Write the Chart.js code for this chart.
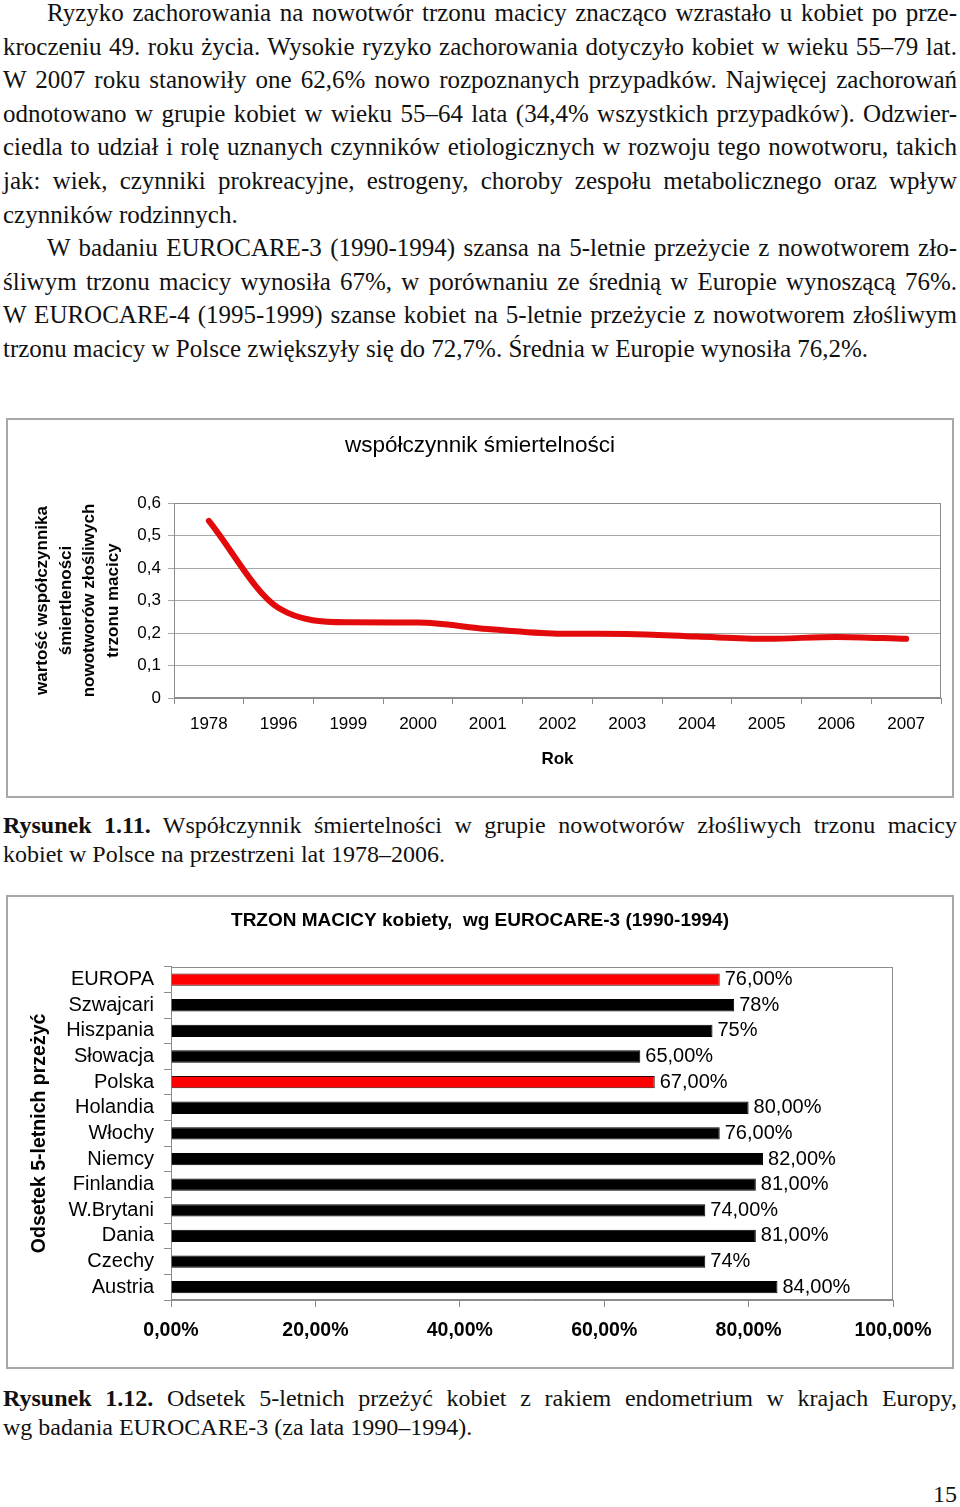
<!DOCTYPE html>
<html lang="pl">
<head>
<meta charset="utf-8">
<script src="https://cdn.jsdelivr.net/npm/chart.js"></script>
<style>
  body { margin: 0; width: 960px; height: 1507px; background: #fff; position: relative; overflow: hidden;
         font-family: "Liberation Serif", "DejaVu Serif", serif; color: #111; }
  .txt { position: absolute; left: 3px; width: 954px; font-size: 25px; line-height: 33.6px; }
  .txt div, .cap div { text-align: justify; text-align-last: justify; }
  .txt div.last, .cap div.last { text-align-last: left; }
  .ind { text-indent: 44px; }
  .cap { position: absolute; left: 3px; width: 954px; font-size: 24px; line-height: 28.5px; }
  .box { position: absolute; left: 6px; width: 948px; box-sizing: border-box; border: 2px solid #a8a8a8; }
  canvas { position: absolute; left: 6px; }
  .page { position: absolute; right: 3px; top: 1479px; font-size: 24px; line-height: 30px; }
</style>
</head>
<body>

<div class="txt" style="top:-4px">
  <div class="ind">Ryzyko zachorowania na nowotwór trzonu macicy znacząco wzrastało u kobiet po prze-</div>
  <div>kroczeniu 49. roku życia. Wysokie ryzyko zachorowania dotyczyło kobiet w wieku 55–79 lat.</div>
  <div>W 2007 roku stanowiły one 62,6% nowo rozpoznanych przypadków. Najwięcej zachorowań</div>
  <div>odnotowano w grupie kobiet w wieku 55–64 lata (34,4% wszystkich przypadków). Odzwier-</div>
  <div>ciedla to udział i rolę uznanych czynników etiologicznych w rozwoju tego nowotworu, takich</div>
  <div>jak: wiek, czynniki prokreacyjne, estrogeny, choroby zespołu metabolicznego oraz wpływ</div>
  <div class="last">czynników rodzinnych.</div>
  <div class="ind">W badaniu EUROCARE-3 (1990-1994) szansa na 5-letnie przeżycie z nowotworem zło-</div>
  <div>śliwym trzonu macicy wynosiła 67%, w porównaniu ze średnią w Europie wynoszącą 76%.</div>
  <div>W EUROCARE-4 (1995-1999) szanse kobiet na 5-letnie przeżycie z nowotworem złośliwym</div>
  <div class="last">trzonu macicy w Polsce zwiększyły się do 72,7%. Średnia w Europie wynosiła 76,2%.</div>
</div>

<div class="box" style="top:418px;height:380px"></div>
<canvas id="lineChart" width="948" height="379" style="top:418px"></canvas>

<div class="cap" style="top:811px">
  <div><b>Rysunek 1.11.</b> Współczynnik śmiertelności w grupie nowotworów złośliwych trzonu macicy</div>
  <div class="last">kobiet w Polsce na przestrzeni lat 1978–2006.</div>
</div>

<div class="box" style="top:895px;height:474px"></div>
<canvas id="barChart" width="948" height="473" style="top:895px"></canvas>

<div class="cap" style="top:1384px">
  <div><b>Rysunek 1.12.</b> Odsetek 5-letnich przeżyć kobiet z rakiem endometrium w krajach Europy,</div>
  <div class="last">wg badania EUROCARE-3 (za lata 1990–1994).</div>
</div>

<div class="page">15</div>

<script>
// wykres 1 - wspolczynnik smiertelnosci
const years = ['1978', '1996', '1999', '2000', '2001', '2002', '2003', '2004', '2005', '2006', '2007'];
const mortality = [0.545, 0.277, 0.233, 0.232, 0.212, 0.198, 0.197, 0.189, 0.182, 0.188, 0.182];
const yTitleLines = ['wartość współczynnika', 'śmiertleności', 'nowotworów złośliwych', 'trzonu macicy'];

// wykres 2 - odsetek 5-letnich przezyc (EUROCARE-3)
const countries = ['EUROPA', 'Szwajcari', 'Hiszpania', 'Słowacja', 'Polska', 'Holandia', 'Włochy',
                   'Niemcy', 'Finlandia', 'W.Brytani', 'Dania', 'Czechy', 'Austria'];
const survival = [76, 78, 75, 65, 67, 80, 76, 82, 81, 74, 81, 74, 84];
const survivalLabels = ['76,00%', '78%', '75%', '65,00%', '67,00%', '80,00%', '76,00%',
                        '82,00%', '81,00%', '74,00%', '81,00%', '74%', '84,00%'];
const highlighted = ['EUROPA', 'Polska'];

// jesli linia tekstu sie zawija, sciskamy odstepy
document.querySelectorAll('.txt div, .cap div').forEach(el => {
    let ws = 0;
    const lh = parseFloat(getComputedStyle(el).lineHeight);
    while (el.offsetHeight > lh * 1.5 && ws > -8) {
        ws -= 0.5;
        el.style.wordSpacing = ws + 'px';
    }
});

Chart.defaults.font.family = '"Liberation Sans", Arial, sans-serif';
Chart.defaults.color = '#000';

const plotFrame = {
    id: 'plotFrame',
    beforeDatasetsDraw(chart, args, opts) {
        const a = chart.chartArea
        const ctx = chart.ctx
        ctx.save()
        ctx.strokeStyle = opts.color || '#888'
        ctx.lineWidth = 1
        ctx.strokeRect(Math.round(a.left) + 0.5, Math.round(a.top) + 0.5,
                       Math.round(a.right - a.left) - 1, Math.round(a.bottom - a.top) - 1)
        ctx.restore()
    }
}

const barValues = {
    id: 'barValues',
    afterDatasetsDraw(chart, args, opts) {
        const ctx = chart.ctx
        const meta = chart.getDatasetMeta(0)
        ctx.save()
        ctx.font = '20px "Liberation Sans", Arial, sans-serif'
        ctx.fillStyle = '#000'
        ctx.textAlign = 'left'
        ctx.textBaseline = 'middle'
        meta.data.forEach((bar, i) => {
            ctx.fillText(opts.labels[i], bar.x + 5, bar.y)
        })
        ctx.restore()
    }
}

// pusta os po prawej - odsuwa obszar wykresu od krawedzi, tytul zostaje na srodku
function rightGap(axis, w) {
    return {
        axis: axis,
        type: 'category',
        position: 'right',
        ticks: { display: false },
        grid: { display: false },
        border: { display: false },
        afterFit(s) { s.width = w }
    }
}

new Chart(document.getElementById('lineChart'), {
    type: 'line',
    data: {
        labels: years,
        datasets: [{
            data: mortality,
            borderColor: '#e20a0a',
            borderWidth: 6,
            pointRadius: 0,
            fill: false,
            cubicInterpolationMode: 'monotone',
            borderCapStyle: 'round',
            borderJoinStyle: 'round'
        }]
    },
    options: {
        responsive: false,
        animation: false,
        layout: { padding: 0 },
        plugins: {
            legend: { display: false },
            tooltip: { enabled: false },
            title: {
                display: true,
                text: 'współczynnik śmiertelności',
                font: { size: 22.5, weight: 'normal' },
                color: '#000',
                padding: { top: 14, bottom: 44 }
            },
            plotFrame: { color: '#8c8c8c' }
        },
        scales: {
            x: {
                offset: true,
                grid: { offset: true, drawOnChartArea: false, tickLength: 6, color: '#8c8c8c' },
                border: { color: '#8c8c8c' },
                ticks: { padding: 10, font: { size: 17 }, maxRotation: 0, autoSkip: false },
                title: { display: true, text: 'Rok', font: { size: 17, weight: 'bold' }, padding: { top: 0, bottom: 27 } },
                afterFit(s) { s.height = 99 }
            },
            y: {
                min: 0,
                max: 0.6,
                ticks: {
                    stepSize: 0.1,
                    padding: 7,
                    font: { size: 17 },
                    callback: v => v === 0 ? '0' : v.toFixed(1).replace('.', ',')
                },
                grid: { color: '#a6a6a6', tickLength: 6 },
                border: { color: '#8c8c8c' },
                title: {
                    display: true,
                    text: yTitleLines,
                    font: { size: 17, weight: 'bold', lineHeight: 1.405 },
                    padding: { top: 24, bottom: 0 }
                },
                afterFit(s) { s.width = 168 }
            },
            yRight: rightGap('y', 13)
        }
    },
    plugins: [plotFrame]
})

new Chart(document.getElementById('barChart'), {
    type: 'bar',
    data: {
        labels: countries,
        datasets: [{
            data: survival,
            backgroundColor: countries.map(c => highlighted.includes(c) ? '#ff0000' : '#000000'),
            borderColor: countries.map(c => highlighted.includes(c) ? '#3a0000' : '#000000'),
            borderWidth: 1,
            barPercentage: 0.48,
            categoryPercentage: 1
        }]
    },
    options: {
        indexAxis: 'y',
        responsive: false,
        animation: false,
        layout: { padding: 0 },
        plugins: {
            legend: { display: false },
            tooltip: { enabled: false },
            title: {
                display: true,
                text: 'TRZON MACICY kobiety,  wg EUROCARE-3 (1990-1994)',
                font: { size: 19, weight: 'bold' },
                color: '#000',
                padding: { top: 14, bottom: 35 }
            },
            plotFrame: { color: '#8c8c8c' },
            barValues: { labels: survivalLabels }
        },
        scales: {
            x: {
                min: 0,
                max: 100,
                ticks: {
                    stepSize: 20,
                    padding: 12,
                    font: { size: 19.5, weight: 'bold' },
                    callback: v => v.toFixed(2).replace('.', ',') + '%'
                },
                grid: { drawOnChartArea: false, tickLength: 7, color: '#8c8c8c' },
                border: { color: '#8c8c8c' },
                afterFit(s) { s.height = 68 }
            },
            y: {
                grid: { offset: true, drawOnChartArea: false, tickLength: 7, color: '#8c8c8c' },
                border: { color: '#8c8c8c' },
                ticks: { padding: 10, font: { size: 20 }, autoSkip: false },
                title: {
                    display: true,
                    text: 'Odsetek 5-letnich przeżyć',
                    font: { size: 19.5, weight: 'bold' },
                    padding: { top: 22, bottom: 0 }
                },
                afterFit(s) { s.width = 165 }
            },
            yRight: rightGap('y', 61)
        }
    },
    plugins: [plotFrame, barValues]
})
</script>
</body>
</html>
